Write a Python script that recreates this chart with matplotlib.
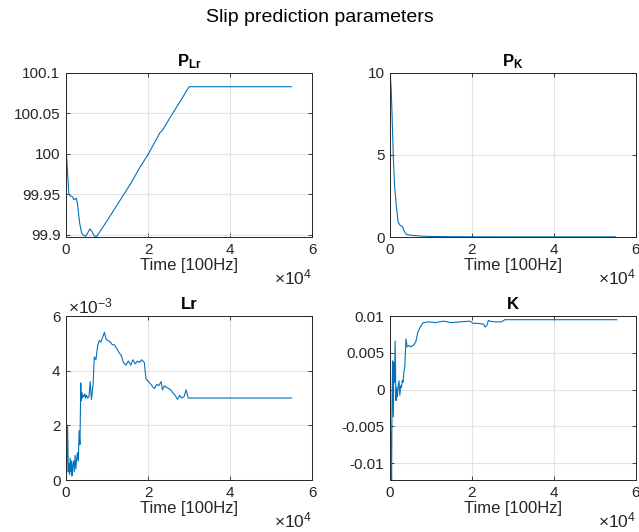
import matplotlib.pyplot as plt
from matplotlib.ticker import FuncFormatter

plt.rcParams['font.family'] = ['Liberation Sans', 'DejaVu Sans']
plt.rcParams['mathtext.fontset'] = 'custom'
plt.rcParams['mathtext.rm'] = 'Liberation Sans'
plt.rcParams['mathtext.bf'] = 'Liberation Sans:bold'
plt.rcParams['mathtext.it'] = 'Liberation Sans:italic'

# P_Lr
t_plr = [0, 150, 400, 700, 1000, 1500, 2000, 2500, 2800, 3300, 3800, 4300, 4800, 5300,
         5800, 6300, 6800, 7400, 10000, 13000, 16000, 18000, 20000, 21500, 22900,
         23500, 26000, 28000, 30000, 55000]
v_plr = [100.0, 99.998, 99.975, 99.950, 99.948, 99.947, 99.943, 99.945, 99.938, 99.915,
         99.902, 99.899, 99.898, 99.902, 99.907, 99.904, 99.899, 99.897, 99.917, 99.941,
         99.965, 99.983, 99.999, 100.013, 100.026, 100.029, 100.050, 100.066, 100.083, 100.083]

# P_K
t_pk = [0, 150, 300, 500, 800, 1100, 1500, 2000, 2500, 3000, 3500, 4000, 5000, 6000,
        8000, 10000, 15000, 20000, 30000, 55000]
v_pk = [10.0, 9.6, 9.0, 7.5, 5.0, 3.2, 2.0, 0.9, 0.7, 0.65, 0.35, 0.15, 0.11, 0.09,
        0.05, 0.03, 0.02, 0.015, 0.01, 0.01]

# Lr
t_lr = [0, 150, 400, 550, 700, 850, 1000, 1150, 1300, 1450, 1600, 1800, 2000, 2200,
        2400, 2600, 2800, 3000, 3200, 3400, 3600, 3700, 3850, 4000, 4200, 4400, 4600,
        4800, 5000, 5300, 5600, 5900, 6200, 6600, 6900, 7300, 7700, 8100, 8500, 8900,
        9350, 9800, 10300, 10800, 11300, 11800, 12400, 13000, 13500, 14000, 14600,
        15200, 15800, 16300, 16900, 17400, 17900, 18400, 19100, 19500, 20100, 20700,
        21200, 21600, 22100, 22600, 23200, 23500, 24000, 24400, 25000, 25500, 26000,
        26600, 27200, 27700, 28200, 28800, 29300, 29800, 30200, 55000]
v_lr = [0.0, 0.3, 2.0, 0.3, 0.6, 0.2, 0.8, 0.3, 0.7, 0.15, 0.5, 0.7, 0.3, 0.9,
        0.4, 0.8, 1.0, 0.7, 1.8, 1.3, 3.55, 2.9, 3.2, 3.0, 3.1, 3.05, 3.15,
        3.0, 3.1, 3.0, 3.05, 3.6, 2.95, 3.5, 4.5, 4.4, 4.9, 5.1, 5.05, 5.2,
        5.4, 5.15, 5.1, 5.05, 4.95, 4.95, 4.8, 4.65, 4.55, 4.3, 4.2,
        4.35, 4.2, 4.4, 4.25, 4.35, 4.3, 4.4, 4.3, 3.7, 3.6, 3.5,
        3.4, 3.35, 3.5, 3.45, 3.6, 3.3, 3.45, 3.4, 3.35, 3.3, 3.2,
        3.1, 2.95, 3.1, 3.0, 3.05, 3.3, 3.0, 3.0, 3.0]
v_lr = [v * 1e-3 for v in v_lr]

# K
t_k = [0, 150, 300, 400, 500, 650, 800, 950, 1100, 1250, 1460, 1600, 1800, 2000,
       2200, 2400, 2600, 2800, 3000, 3200, 3400, 3600, 3900, 4200, 4600, 5000, 5700,
       6300, 6800, 7300, 8100, 9500, 11000, 13000, 15000, 17000, 19500, 20300, 21500,
       22800, 23200, 23600, 24000, 24400, 25500, 27200, 28000, 30000, 55300]
v_k = [0.0, -0.005, -0.010, -0.0125, -0.002, 0.0039, -0.0037, 0.0037, 0.001, 0.0066,
       -0.0015, 0.0003, -0.001, 0.0005, 0.0012, -0.0008, 0.0005, 0.0003, 0.0012,
       0.001, 0.0025, 0.003, 0.0069, 0.0058, 0.006, 0.0058, 0.006, 0.0065, 0.0078,
       0.0084, 0.0091, 0.0092, 0.0091, 0.0093, 0.0091, 0.0092, 0.0093, 0.0090, 0.0090,
       0.0089, 0.0085, 0.0087, 0.0094, 0.0093, 0.0092, 0.0092, 0.0095, 0.0095, 0.0095]

line_c = '#0072BD'
ax_c = '#262626'
grid_c = '#e3e3e3'

fig = plt.figure(figsize=(6.39, 5.32), dpi=100)
fig.suptitle('Slip prediction parameters', y=0.983, fontsize=14, color='black')

w, h = 0.385, 0.3083
boxes = [(0.1033, 0.5545), (0.6103, 0.5545), (0.1033, 0.0977), (0.6103, 0.0977)]
series = [(t_plr, v_plr, r'$\mathbf{P_{Lr}}$', (99.897, 100.1), [99.9, 99.95, 100, 100.05, 100.1]),
          (t_pk, v_pk, r'$\mathbf{P_{K}}$', (0, 10), [0, 5, 10]),
          (t_lr, v_lr, 'Lr', (0, 6e-3), [0, 2e-3, 4e-3, 6e-3]),
          (t_k, v_k, 'K', (-0.0123, 0.01), [-0.01, -0.005, 0, 0.005, 0.01])]
ylabels = [['99.9', '99.95', '100', '100.05', '100.1'],
           ['0', '5', '10'],
           ['0', '2', '4', '6'],
           ['-0.01', '-0.005', '0', '0.005', '0.01']]

for (x0, y0), (t, v, title, ylim, yt), yl in zip(boxes, series, ylabels):
    ax = fig.add_axes([x0, y0, w, h])
    ax.plot(t, v, color=line_c, lw=0.8)
    ax.set_xlim(0, 6e4)
    ax.set_ylim(*ylim)
    ax.set_xticks([0, 2e4, 4e4, 6e4])
    ax.xaxis.set_major_formatter(FuncFormatter(lambda x, p: '%g' % (x / 1e4)))
    ax.set_yticks(yt)
    ax.set_yticklabels(yl)
    ax.grid(True, color=grid_c, lw=0.8)
    ax.set_axisbelow(True)
    for s in ax.spines.values():
        s.set_color(ax_c)
        s.set_linewidth(0.7)
    ax.tick_params(direction='in', length=3, width=0.6, colors=ax_c, labelsize=11,
                   top=True, right=True, pad=4)
    ax.set_title(title, fontsize=12, fontweight='bold', pad=5)
    ax.set_xlabel('Time [100Hz]', fontsize=12, color=ax_c, labelpad=1)
    ax.text(1.0, -0.245, r'$\times10^{4}$', transform=ax.transAxes, ha='right', va='center',
            fontsize=12.5, color=ax_c)
    if title == 'Lr':
        ax.text(0.01, 1.0, r'$\times10^{-3}$', transform=ax.transAxes, ha='left', va='bottom',
                fontsize=12.5, color=ax_c)

fig.savefig('out.png', dpi=100)
